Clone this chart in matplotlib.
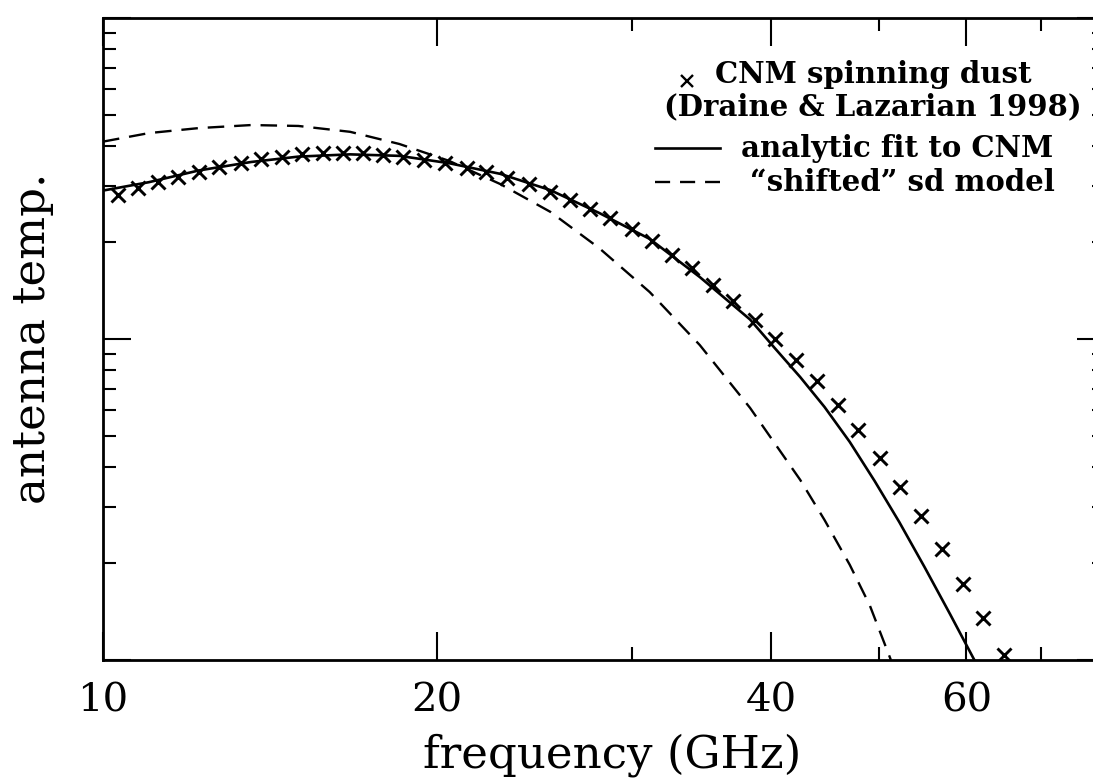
import numpy as np
import matplotlib
matplotlib.use('Agg')
import matplotlib.pyplot as plt
from matplotlib.ticker import LogLocator, FixedLocator, NullFormatter


# CNM spinning dust points (Draine & Lazarian 1998)
freq_sd = [10.32, 10.76, 11.21, 11.69, 12.20, 12.72, 13.31, 13.87, 14.49, 15.10,
           15.78, 16.46, 17.16, 17.89, 18.64, 19.46, 20.33, 21.27, 22.16, 23.13,
           24.20, 25.28, 26.35, 27.47, 28.63, 29.95, 31.22, 32.54, 33.92, 35.46,
           36.97, 38.68, 40.31, 42.10, 43.97, 45.93, 47.95, 50.12, 52.32, 54.66,
           57.03, 59.57, 62.09, 64.83]
temp_sd = [28.1, 29.5, 30.8, 32.0, 33.2, 34.4, 35.4, 36.3, 37.0, 37.6,
           37.9, 38.1, 37.9, 37.4, 37.0, 36.1, 35.3, 34.2, 33.1, 31.7,
           30.5, 28.8, 27.2, 25.4, 23.8, 22.0, 20.2, 18.3, 16.6, 14.7,
           13.1, 11.5, 9.98, 8.60, 7.39, 6.21, 5.19, 4.25, 3.47, 2.80,
           2.22, 1.73, 1.35, 1.04]

# analytic fit to CNM
freq_fit = [10.0, 11.0, 12.2, 13.6, 15.0, 16.7, 18.5, 20.5, 22.8, 25.3, 28.0,
            31.1, 34.5, 38.3, 40.3, 42.5, 44.7, 47.1, 49.6, 52.2, 55.0, 58.0, 61.0]
temp_fit = [29.0, 30.8, 33.5, 35.6, 37.0, 37.6, 37.2, 35.3, 32.7, 29.1, 24.7,
            20.5, 15.6, 11.5, 9.38, 7.61, 6.14, 4.78, 3.61, 2.69, 1.95, 1.39, 1.0]

# "shifted" sd model
freq_sh = [10.0, 11.0, 12.2, 13.6, 15.0, 16.7, 18.5, 20.5, 22.8, 25.3, 28.0,
           31.1, 34.5, 38.3, 42.5, 44.7, 47.1, 49.1, 51.3]
temp_sh = [41.2, 43.8, 45.4, 46.4, 46.1, 44.2, 40.5, 35.9, 30.4, 24.9, 19.2,
           14.0, 9.58, 6.10, 3.64, 2.73, 1.98, 1.48, 1.0]

xtick_vals = [10, 20, 40, 60]
xtick_labels = ['10', '20', '40', '60']
xminor_vals = [30, 50, 70]

serif = 'DejaVu Serif'

fig = plt.figure(figsize=(10.93, 7.82), dpi=100)
fig.patch.set_facecolor('white')
# right spine sits just past the edge of the picture, as in the original
ax = fig.add_axes([103 / 1093, 122 / 782, 1002 / 1093, 642 / 782])

ax.plot(freq_sd, temp_sd, linestyle='none', marker='x', color='black',
        markersize=10, markeredgewidth=2.1)
ax.plot(freq_fit, temp_fit, '-', color='black', lw=1.9)
ax.plot(freq_sh, temp_sh, color='black', lw=1.7, linestyle=(0, (7, 4.2)))

ax.set_xscale('log')
ax.set_yscale('log')
ax.set_xlim(10, 80)
ax.set_ylim(1, 100)

ax.xaxis.set_major_locator(FixedLocator(xtick_vals))
ax.xaxis.set_minor_locator(FixedLocator(xminor_vals))
ax.set_xticklabels(xtick_labels)
ax.xaxis.set_minor_formatter(NullFormatter())
ax.yaxis.set_major_locator(LogLocator(base=10, numticks=10))
ax.yaxis.set_minor_locator(LogLocator(base=10, subs=np.arange(2, 10), numticks=10))
ax.yaxis.set_major_formatter(NullFormatter())
ax.yaxis.set_minor_formatter(NullFormatter())

ax.tick_params(which='both', direction='in', top=True, right=True, color='black')
ax.tick_params(which='major', length=20, width=1.5, pad=16)
ax.tick_params(which='minor', length=9.5, width=1.5)
for lab in ax.get_xticklabels():
    lab.set_fontfamily(serif)
    lab.set_fontsize(29)

for sp in ax.spines.values():
    sp.set_linewidth(2.0)

ax.set_xlabel('frequency (GHz)', fontsize=32.5, family=serif, va='baseline')
ax.xaxis.set_label_coords(0.508, -0.1667)
ax.set_ylabel('antenna temp.', fontsize=32.5, family=serif, va='center', ha='center')
ax.yaxis.set_label_coords(-0.0709, 0.5016)

# legend, laid out like the original
lkw = dict(transform=ax.transAxes, fontsize=21, family=serif, fontweight='bold')
ax.plot([0.583], [0.902], transform=ax.transAxes, marker='x', color='black',
        markersize=8, markeredgewidth=1.7, linestyle='none', clip_on=False)
ax.text(0.7685, 0.849, 'CNM spinning dust\n(Draine & Lazarian 1998)',
        ha='center', va='baseline', multialignment='center', linespacing=1.12,
        **lkw)
ax.plot([0.551, 0.616], [0.797, 0.797], transform=ax.transAxes, color='black',
        lw=1.9, clip_on=False)
ax.text(0.948, 0.783, 'analytic fit to CNM', ha='right', va='baseline', **lkw)
ax.plot([0.551, 0.616], [0.745, 0.745], transform=ax.transAxes, color='black',
        lw=1.7, linestyle=(0, (6.4, 4.2)), clip_on=False)
ax.text(0.950, 0.730, '\u201cshifted\u201d sd model', ha='right', va='baseline', **lkw)

fig.savefig('out.png', dpi=100, facecolor='white')
